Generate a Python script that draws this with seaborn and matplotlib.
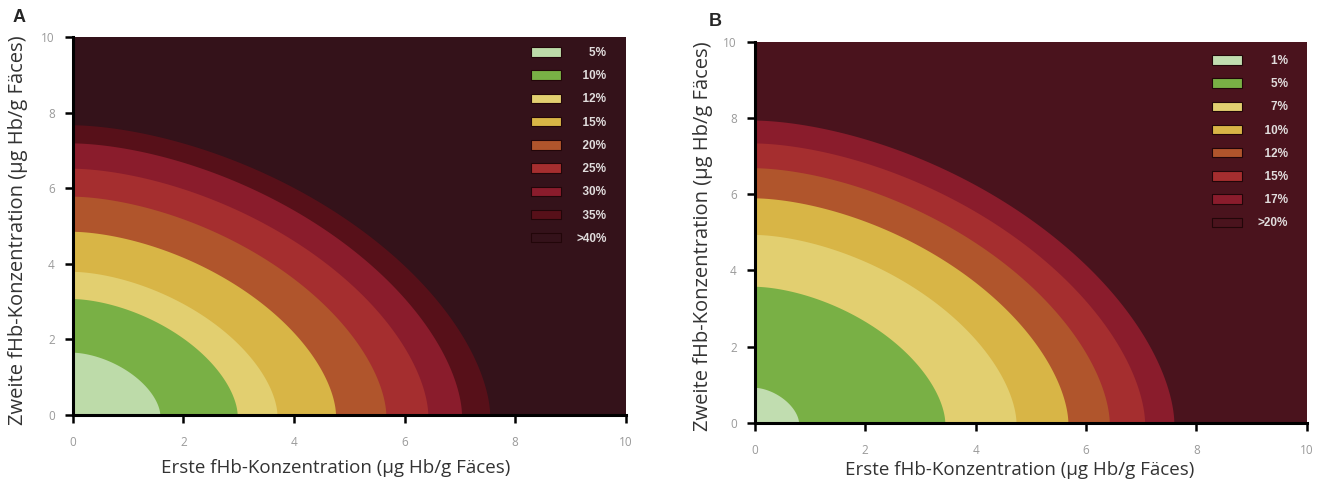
import numpy as np
import matplotlib
matplotlib.use("Agg")
import matplotlib.pyplot as plt
from matplotlib.patches import Patch
import seaborn as sns

# Panel A: risk bands (inner -> outer), boundary intercepts
a_labels = ["5%", "10%", "12%", "15%", "20%", "25%", "30%", "35%", ">40%"]
a_colors = ["#bddba9", "#79b045", "#e2cf70", "#d8b546", "#b0552c", "#a52e2f",
            "#8a1c2c", "#571019", "#34121a"]
a_x_edges = [1.58, 2.98, 3.70, 4.76, 5.67, 6.43, 7.04, 7.55]
a_y_edges = [1.65, 3.07, 3.79, 4.85, 5.78, 6.52, 7.19, 7.67]

# Panel B
b_labels = ["1%", "5%", "7%", "10%", "12%", "15%", "17%", ">20%"]
b_colors = ["#c1ddb0", "#79b045", "#e2cf70", "#d8b546", "#b0552c", "#a52e2f",
            "#8a1c2c", "#4a131d"]
b_x_edges = [0.80, 3.45, 4.74, 5.68, 6.43, 7.07, 7.60]
b_y_edges = [0.92, 3.57, 4.93, 5.89, 6.68, 7.33, 7.93]

ticks = [0, 2, 4, 6, 8, 10]
xlabel = "Erste fHb-Konzentration (µg Hb/g Fäces)"
ylabel = "Zweite fHb-Konzentration (µg Hb/g Fäces)"

sns.set_style("ticks")
plt.rcParams['font.family'] = ['Open Sans', 'DejaVu Sans']

fig = plt.figure(figsize=(13.22, 4.90), dpi=100)
ax_a = fig.add_axes([0.0552, 0.153, 0.418, 0.771])
ax_b = fig.add_axes([0.571, 0.137, 0.4175, 0.778])


def draw_panel(ax, labels, colors, x_edges, y_edges, power, legend_top,
               xlab_pos, ylab_x):
    # background = highest risk class
    ax.fill_between([0, 10], 0, 10, color=colors[-1], lw=0)
    t = np.linspace(0, np.pi / 2, 300)
    for i in range(len(x_edges) - 1, -1, -1):
        xs = x_edges[i] * np.cos(t) ** (2 / power)
        ys = y_edges[i] * np.sin(t) ** (2 / power)
        ax.fill(np.r_[0, xs], np.r_[0, ys], color=colors[i], lw=0)
    ax.set_xlim(0, 10)
    ax.set_ylim(0, 10)
    ax.set_xticks(ticks)
    ax.set_yticks(ticks)
    ax.tick_params(direction="out", length=6, width=1.8, color="black",
                   labelsize=8.5, labelcolor="#9a9a9a")
    ax.tick_params(axis="x", pad=9)
    ax.tick_params(axis="y", pad=7)
    sns.despine(ax=ax)
    for s in ["left", "bottom"]:
        ax.spines[s].set_linewidth(2.2)
        ax.spines[s].set_color("black")
    ax.set_xlabel(xlabel, fontsize=13.5, color="#333333")
    ax.set_ylabel(ylabel, fontsize=14.5, color="#333333")
    ax.xaxis.set_label_coords(*xlab_pos)
    ax.yaxis.set_label_coords(ylab_x, 0.49)

    handles = [Patch(facecolor=c, edgecolor="#220609", lw=0.8) for c in colors]
    width = max(len(l) for l in labels)
    padded = ["\u2007" * (width - len(l)) + l for l in labels]
    leg = ax.legend(handles, padded, loc="upper right",
                    bbox_to_anchor=(0.966, legend_top), frameon=False,
                    handlelength=2.55, handleheight=0.85, labelspacing=0.95,
                    handletextpad=1.3, borderaxespad=0, borderpad=0,
                    prop={"size": 8.5, "weight": "bold",
                          "family": ["Liberation Sans", "DejaVu Sans"]})
    for txt in leg.get_texts():
        txt.set_color("#e0dcdc")


draw_panel(ax_a, a_labels, a_colors, a_x_edges, a_y_edges, 1.7, 0.974,
           (0.476, -0.116), -0.081)
draw_panel(ax_b, b_labels, b_colors, b_x_edges, b_y_edges, 1.7, 0.965,
           (0.48, -0.101), -0.076)

fig.text(0.0095, 0.955, "A", fontsize=13, fontweight="bold",
         family=["Liberation Sans", "DejaVu Sans"])
fig.text(0.536, 0.947, "B", fontsize=13, fontweight="bold",
         family=["Liberation Sans", "DejaVu Sans"])

fig.savefig("out.png", dpi=100)
